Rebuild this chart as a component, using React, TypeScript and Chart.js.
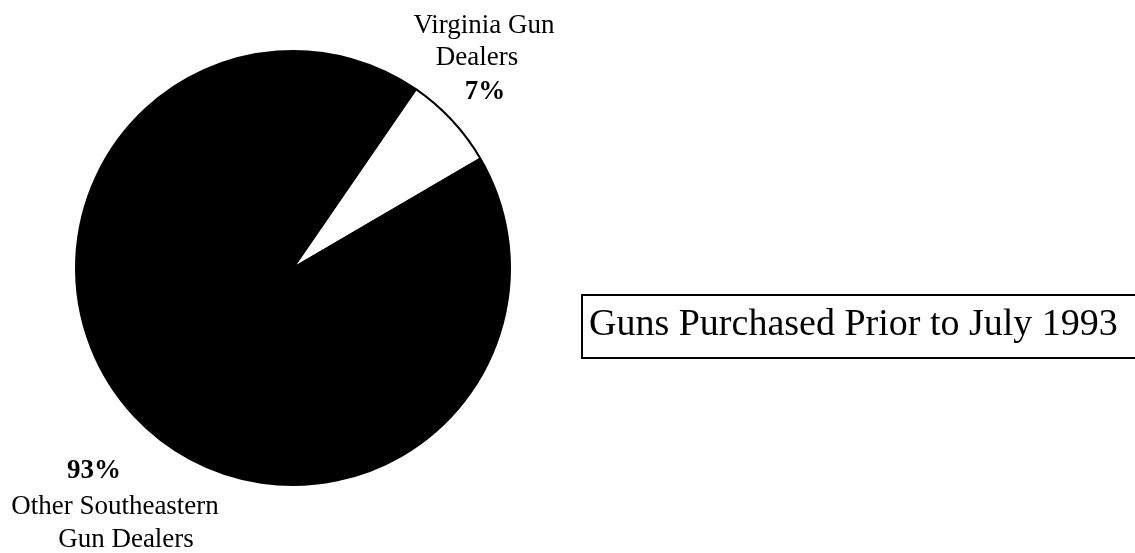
import React, { useEffect, useRef } from "react";
import { Chart, registerables } from "chart.js";

Chart.register(...registerables);

const categories = ["Virginia Gun Dealers", "Other Southeastern Gun Dealers"];
const shares = [7, 93];
const sliceColors = ["#ffffff", "#000000"];
const title = "Guns Purchased Prior to July 1993";

const W = 1135;
const H = 553;
const SERIF = '"Liberation Serif", "Times New Roman", serif';

const labelPlugin = {
  id: "labels",
  afterDraw(chart: any) {
    const ctx = chart.ctx;
    ctx.save();
    ctx.fillStyle = "#000";
    ctx.textAlign = "center";
    ctx.textBaseline = "alphabetic";
    // Virginia label
    ctx.font = `27px ${SERIF}`;
    ctx.fillText("Virginia Gun", 484, 33);
    ctx.fillText("Dealers", 477, 65);
    ctx.font = `bold 27px ${SERIF}`;
    ctx.fillText(`${shares[0]}%`, 485, 99);
    // Other label
    ctx.font = `bold 27px ${SERIF}`;
    ctx.fillText(`${shares[1]}%`, 94, 478);
    ctx.font = `27px ${SERIF}`;
    ctx.fillText("Other Southeastern", 115, 514);
    ctx.fillText("Gun Dealers", 126, 547);
    // Title box
    ctx.strokeStyle = "#000";
    ctx.lineWidth = 2;
    ctx.beginPath();
    ctx.moveTo(W + 5, 295);
    ctx.lineTo(582, 295);
    ctx.lineTo(582, 358);
    ctx.lineTo(W + 5, 358);
    ctx.stroke();
    ctx.textAlign = "left";
    ctx.font = `38px ${SERIF}`;
    ctx.fillText(title, 589, 335);
    ctx.restore();
  },
};

export default function App() {
  const ref = useRef<HTMLCanvasElement>(null);
  useEffect(() => {
    if (!ref.current) return;
    const chart = new Chart(ref.current, {
      type: "pie",
      data: {
        labels: categories,
        datasets: [
          {
            data: shares,
            backgroundColor: sliceColors,
            borderColor: "#000000",
            borderWidth: 2,
          },
        ],
      },
      options: {
        responsive: false,
        animation: false,
        rotation: 34.5,
        layout: { padding: { left: 75, top: 50, right: 624, bottom: 67 } },
        plugins: {
          legend: { display: false },
          tooltip: { enabled: false },
          title: { display: false },
        },
      },
      plugins: [labelPlugin],
    });
    return () => chart.destroy();
  }, []);
  return (
    <div style={{ position: "fixed", left: 0, top: 0, width: W, height: H, background: "#fff" }}>
      <canvas ref={ref} width={W} height={H} style={{ width: W, height: H, display: "block" }} />
    </div>
  );
}
